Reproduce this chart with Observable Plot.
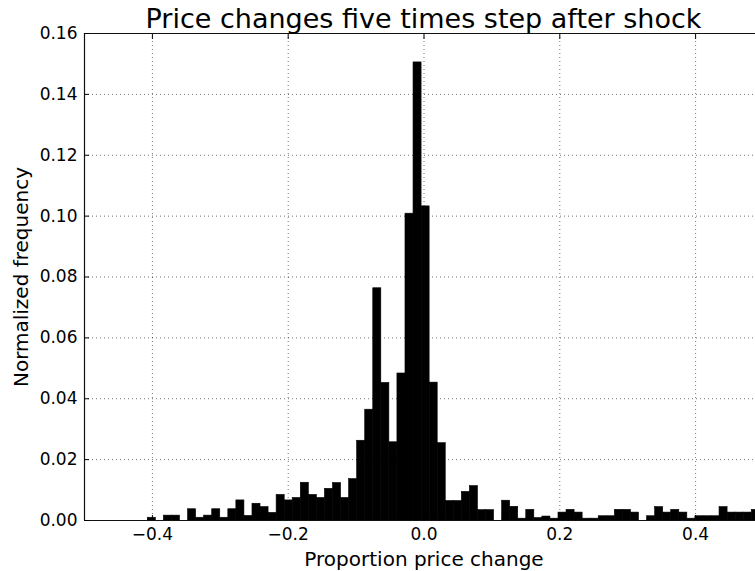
<!DOCTYPE html>
<html>
<head>
<meta charset="utf-8">
<script src="https://cdn.jsdelivr.net/npm/d3@7"></script>
<script src="https://cdn.jsdelivr.net/npm/@observablehq/plot@0.6"></script>
<style>
  html, body { margin: 0; padding: 0; background: #fff; }
  #wrap { position: relative; width: 755px; height: 571px; overflow: hidden; font-family: "DejaVu Sans", sans-serif; }
  #title { position: absolute; left: 0; top: 5px; width: 847px; text-align: center; font-size: 27px; line-height: 27px; white-space: nowrap; color: #000; }
</style>
</head>
<body>
<div id="wrap"><div id="title">Price changes five times step after shock</div></div>
<script>
// Histogram bins (equal width), left edge of first bin and bin width in data units
const binStart = -0.4068;
const binWidth = 0.01186;
// Normalized frequency per bin
const freq = [
  0.0009, 0, 0.0016, 0.0016, 0, 0.0037, 0.0009, 0.0016, 0.0037, 0.0009,
  0.0037, 0.0066, 0.0015, 0.0055, 0.0044, 0.0025, 0.0084, 0.0066, 0.0074, 0.0124,
  0.0084, 0.0074, 0.0104, 0.0123, 0.0074, 0.0136, 0.0262, 0.0364, 0.0763, 0.0452,
  0.0257, 0.0483, 0.1008, 0.1505, 0.1032, 0.0453, 0.0254, 0.0064, 0.0064, 0.0094,
  0.0113, 0.0034, 0.0034, 0, 0.0065, 0.0045, 0.0006, 0.0035, 0.0008, 0.0013,
  0.0006, 0.0026, 0.0035, 0.0026, 0.0006, 0.0006, 0.0014, 0.0014, 0.0035, 0.0035,
  0.0026, 0, 0.0014, 0.0044, 0.0026, 0.0035, 0.0026, 0.0006, 0.0014, 0.0014,
  0.0014, 0.0044, 0.0026, 0.0026, 0.0026, 0.0035
];
const xTicks = [-0.4, -0.2, 0.0, 0.2, 0.4];
const yTicks = [0, 0.02, 0.04, 0.06, 0.08, 0.10, 0.12, 0.14, 0.16];
const yGrid = [0.02, 0.04, 0.06, 0.08, 0.10, 0.12, 0.14];
const xLabel = "Proportion price change";
const yLabel = "Normalized frequency";

const bins = freq.map((f, i) => ({ x1: binStart + i * binWidth, x2: binStart + (i + 1) * binWidth, f }));

const gridStyle = { stroke: "#000", strokeOpacity: 0.55, strokeWidth: 1, strokeDasharray: "1,3" };

const chart = Plot.plot({
  width: 755,
  height: 571,
  marginLeft: 84,
  marginRight: 0,
  marginTop: 33,
  marginBottom: 51,
  style: { fontFamily: "DejaVu Sans, sans-serif", background: "white", color: "black", overflow: "visible" },
  x: { domain: [-0.5, 0.5], range: [84, 763] },
  y: { domain: [0, 0.16], range: [520, 33] },
  marks: [
    Plot.gridX(xTicks, gridStyle),
    Plot.gridY(yGrid, gridStyle),
    Plot.rectY(bins, { x1: "x1", x2: "x2", y: "f", fill: "black", stroke: "black", strokeWidth: 0.6, inset: 0 }),
    Plot.ruleY([0, 0.16], { stroke: "#111", strokeWidth: 1.2 }),
    Plot.ruleX([-0.5], { stroke: "#111", strokeWidth: 1.2 }),
    Plot.axisX(xTicks, { anchor: "bottom", tickSize: -5, fill: "none", label: null, strokeWidth: 1 }),
    Plot.axisX(xTicks, { anchor: "top", tickSize: -5, fill: "none", label: null, strokeWidth: 1 }),
    Plot.axisY(yTicks, { anchor: "left", tickSize: -5, fill: "none", label: null, strokeWidth: 1 }),
    Plot.axisX(xTicks, { anchor: "bottom", tickSize: 0, tickPadding: 7, tickFormat: d3.format(".1f"), fontSize: 17, label: null }),
    Plot.axisY(yTicks, { anchor: "left", tickSize: 0, tickPadding: 7, tickFormat: d3.format(".2f"), fontSize: 17, label: null }),
    Plot.text([xLabel], { text: d => d, frameAnchor: "bottom", textAnchor: "middle", lineAnchor: "middle", dx: 4, dy: 39, fontSize: 20 }),
    Plot.text([yLabel], { text: d => d, frameAnchor: "left", textAnchor: "middle", lineAnchor: "middle", rotate: -90, dx: -63, fontSize: 20 })
  ]
});
document.getElementById("wrap").insertBefore(chart, document.getElementById("title"));
</script>
</body>
</html>
